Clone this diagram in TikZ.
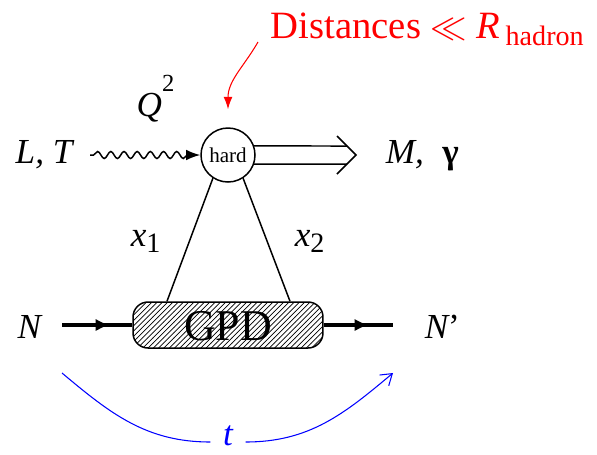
\documentclass[tikz,border=0pt]{standalone}
\usepackage{fontspec}
\setmainfont{Liberation Serif}
\usepackage{tikz}
\usetikzlibrary{positioning,arrows.meta,calc,patterns,decorations.pathmorphing,decorations.markings}
\tikzset{
  lbl/.style={font=\fontsize{20}{22}\selectfont\itshape,inner sep=0pt},
  blob/.style={draw,circle,minimum size=1.08cm,inner sep=0pt,font=\fontsize{12}{13}\selectfont,fill=white},
  gpdbox/.style={draw,rounded corners=0.3cm,minimum width=3.8cm,minimum height=0.92cm,
    pattern=north east lines,font=\fontsize{24}{26}\selectfont,inner sep=0pt},
  nucl/.style={line width=2.3pt,postaction={decorate}},
}

\begin{document}
\begin{tikzpicture}[x=0.02cm,y=-0.02cm,>=Latex,line width=0.85pt]
  \useasboundingbox (0,0) rectangle (597,454);
  % blobs
  \node[blob] (h) at (228,155) {hard};
  \node[gpdbox] (g) at (228,325) {};
  \node[font=\fontsize{25}{27}\selectfont,inner sep=0pt] (gt) at (228,326) {GPD};
  % labels
  \node[lbl,anchor=base west] (d) at (270,38) {\color{red}\upshape\fontsize{22}{24}\selectfont Distances $\ll$ \textit{R}\kern3pt\raisebox{-0.4ex}{\fontsize{16}{17}\selectfont hadron}};
  \node[lbl,anchor=base west] (q) at (136,116) {Q\raisebox{1.5ex}{\upshape\fontsize{14}{15}\selectfont 2}};
  \node[lbl,anchor=base west] (lt) at (15,163) {L, T};
  \node[lbl,anchor=base west] (m) at (385,163) {M,\; \upshape\bfseries γ};
  \node[lbl,anchor=base west] (x1) at (130,246) {x\raisebox{-0.4ex}{\upshape\fontsize{16}{17}\selectfont 1}};
  \node[lbl,anchor=base west] (x2) at (294,246) {x\raisebox{-0.4ex}{\upshape\fontsize{16}{17}\selectfont 2}};
  \node[lbl,anchor=base west] (n) at (17,338) {N};
  \node[lbl,anchor=base west] (np) at (424,338) {N\upshape '};
  \node[lbl,blue] (t) at (228,436) {t};
  % photon
  \coordinate (ph) at (90,155);
  \draw[-{Latex[length=8pt,width=6pt]},decorate,decoration={snake,amplitude=2pt,segment length=7.5pt,pre length=2pt,post length=7pt}] (ph) -- (h.west);
  % outgoing meson
  \coordinate (mt) at (356,155);
  \draw (h.19) -- ($(mt)+(-9,-9)$);
  \draw (h.-19) -- ($(mt)+(-9,9)$);
  \draw ($(mt)+(-19,-19)$) -- (mt) -- ($(mt)+(-19,19)$);
  % partons
  \draw (h.-123) -- ($(g.north)+(-61,0)$);
  \draw (h.-57) -- ($(g.north)+(62,0)$);
  % nucleons
  \coordinate (na) at (62,325);
  \coordinate (nb) at (393,325);
  \draw[nucl,decoration={markings,mark=at position 0.68 with {\arrow{Latex[length=8pt,width=7pt]}}}] (na) -- (g.west);
  \draw[nucl,decoration={markings,mark=at position 0.65 with {\arrow{Latex[length=8pt,width=7pt]}}}] (g.east) -- (nb);
  % momentum transfer
  \coordinate (ta) at (62,373);
  \coordinate (tb) at (393,373);
  \draw[blue,line width=0.6pt] (ta) to[out=-40,in=180] ($(t.west)+(-12,6)$);
  \draw[blue,line width=0.6pt,-{Straight Barb[length=6pt,width=8pt]}] ($(t.east)+(12,6)$) to[out=0,in=-140] (tb);
  % hard scale
  \coordinate (rs) at (258,42);
  \draw[red,line width=0.6pt,-{Latex[length=7pt,width=5pt]}] (rs) to[out=-120,in=90] ($(h.north)+(0,-18)$);
\end{tikzpicture}
\end{document}
